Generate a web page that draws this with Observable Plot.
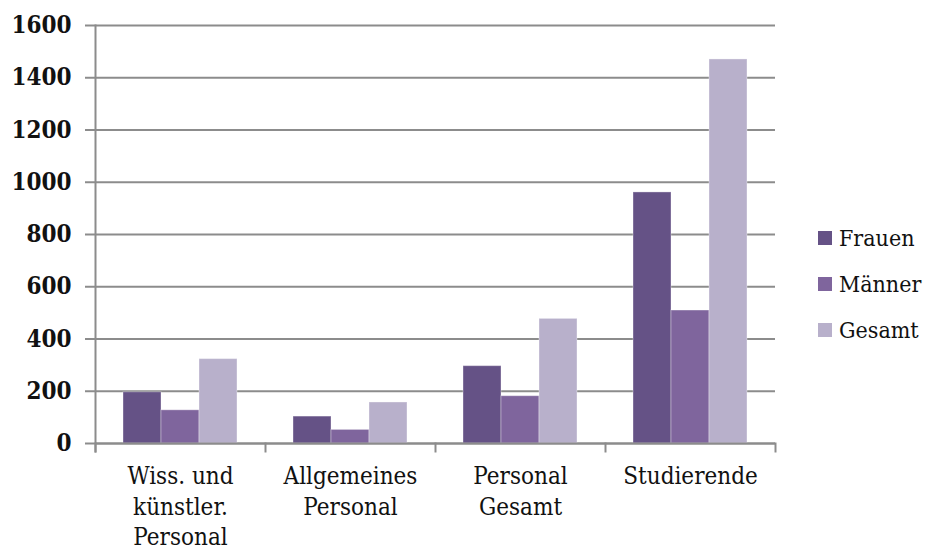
<!DOCTYPE html>
<html><head><meta charset="utf-8">
<script src="https://cdn.jsdelivr.net/npm/d3@7"></script>
<script src="https://cdn.jsdelivr.net/npm/@observablehq/plot@0.6"></script>
<style>
body{margin:0;background:#fff;}
#chart{position:relative;width:928px;height:551px;}
.legend{position:absolute;left:818px;top:215px;font-family:"DejaVu Serif Condensed","DejaVu Serif",serif;font-size:23px;color:#111;}
.legend div{display:flex;align-items:center;height:46px;white-space:nowrap;}
.legend span.sw{width:14px;height:14px;margin-right:7px;display:inline-block;}
</style></head><body><div id="chart"></div>
<script>
const categories = ["Wiss. und\nkünstler.\nPersonal", "Allgemeines\nPersonal", "Personal\nGesamt", "Studierende"];
const series = ["Frauen", "Männer", "Gesamt"];
const frauen = [196, 103, 296, 961];
const maenner = [127, 52, 181, 509];
const gesamt = [323, 157, 477, 1470];
const yTicks = [0, 200, 400, 600, 800, 1000, 1200, 1400, 1600];
const colors = ["#655286", "#7f659d", "#b8b0cb"];

const values = [frauen, maenner, gesamt];
const data = [];
categories.forEach((c, i) => series.forEach((s, j) => data.push({category: c, series: s, value: values[j][i]})));

const grey = "#8c8c8c";
const width = 928, height = 551, mt = 25, mb = 108;
const innerH = height - mt - mb;

const chart = Plot.plot({
  width, height,
  marginLeft: 95, marginRight: 153, marginTop: mt, marginBottom: mb,
  style: {fontFamily: '"DejaVu Serif Condensed","DejaVu Serif",serif', color: "#111", background: "#fff"},
  fx: {domain: categories, padding: 0, axis: null},
  x: {domain: series, paddingInner: 0, paddingOuter: 0.737, round: false, axis: null},
  y: {domain: [0, 1600], axis: null},
  color: {domain: series, range: colors},
  marks: [
    Plot.gridY(yTicks, {stroke: grey, strokeOpacity: 1, strokeWidth: 2}),
    Plot.barY(data, {fx: "category", x: "series", y: "value", fill: "series", stroke: "#ffffff", strokeOpacity: 0.35, strokeWidth: 1}),
    Plot.ruleY([0], {stroke: grey, strokeWidth: 2}),
    Plot.frame({anchor: "left", fx: [categories[0]], stroke: grey, strokeWidth: 2, insetBottom: -8}),
    Plot.frame({anchor: "left", stroke: grey, strokeWidth: 2, insetTop: innerH, insetBottom: -8}),
    Plot.frame({anchor: "right", fx: [categories[categories.length - 1]], stroke: grey, strokeWidth: 2, insetTop: innerH, insetBottom: -8}),
    Plot.axisY(yTicks, {tickSize: 10, tickPadding: 14, stroke: grey, strokeWidth: 2, fontSize: 24, fontWeight: "bold", tickFormat: d3.format("d"), label: null}),
    Plot.axisFx({anchor: "bottom", tickSize: 0, tickPadding: 19, fontSize: 24, lineHeight: 1.27, label: null})
  ]
});
const host = document.getElementById("chart");
host.appendChild(chart);
const lg = document.createElement("div");
lg.className = "legend";
series.forEach((s, j) => {
  const row = document.createElement("div");
  const sw = document.createElement("span");
  sw.className = "sw"; sw.style.background = colors[j];
  row.appendChild(sw);
  row.appendChild(document.createTextNode(s));
  lg.appendChild(row);
});
host.appendChild(lg);
</script></body></html>
